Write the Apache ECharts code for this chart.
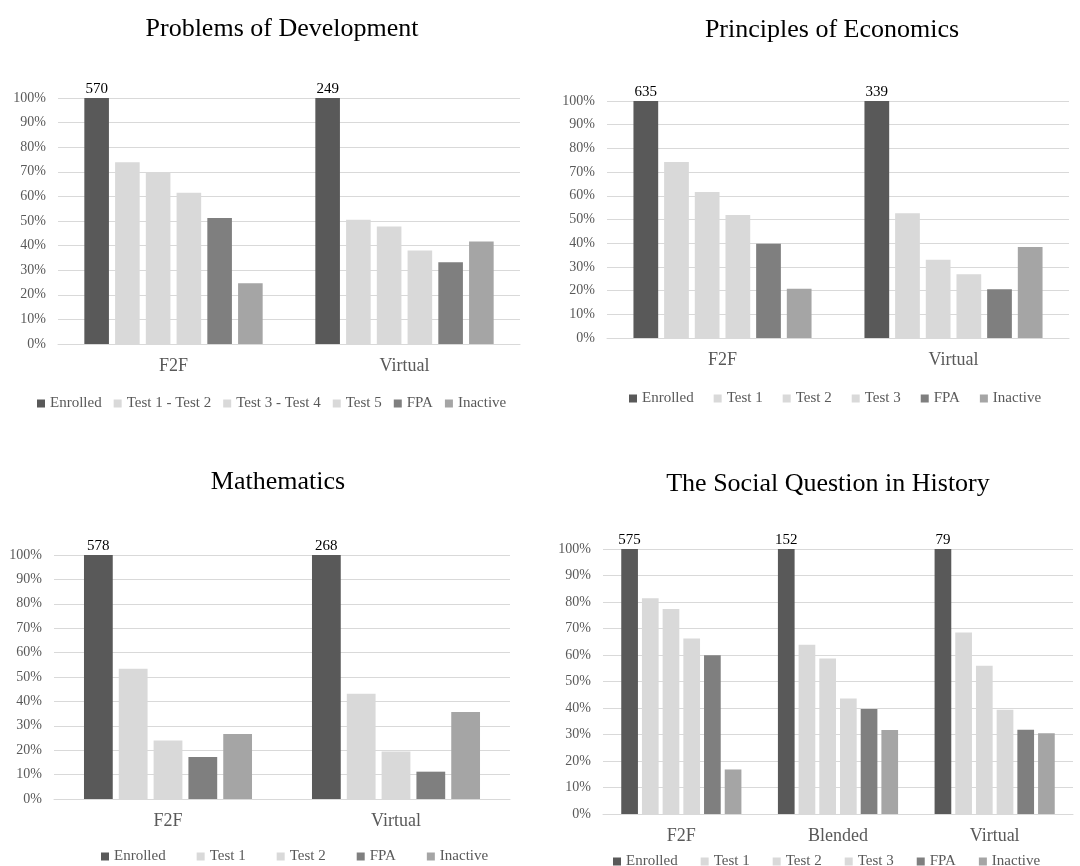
<!DOCTYPE html>
<html>
<head>
<meta charset="utf-8">
<title>Course progression by modality</title>
<script src="https://cdn.jsdelivr.net/npm/echarts@6/dist/echarts.min.js"></script>
<style>
  html, body { margin: 0; padding: 0; background: #ffffff; }
  #page { position: relative; width: 1080px; height: 866px; }
  .panel { position: absolute; width: 540px; height: 433px; }
</style>
</head>
<body>
<div id="page">
  <div id="dev" class="panel" style="left:0;top:0;"></div>
  <div id="eco" class="panel" style="left:540px;top:0;"></div>
  <div id="math" class="panel" style="left:0;top:433px;"></div>
  <div id="soc" class="panel" style="left:540px;top:433px;"></div>
</div>
<script>
// ---- Data: share of enrolled students (%) reaching each stage ----

// Problems of Development
const devTitle = 'Problems of Development';
const devCategories = ['F2F', 'Virtual'];
const devSeriesNames = ['Enrolled', 'Test 1 - Test 2', 'Test 3 - Test 4', 'Test 5', 'FPA', 'Inactive'];
const devEnrolledCount = [570, 249];
const devEnrolled = [100, 100];
const devTest1to2 = [73.9, 50.5];
const devTest3to4 = [69.7, 47.8];
const devTest5 = [61.5, 38.0];
const devFPA = [51.2, 33.2];
const devInactive = [24.7, 41.7];

// Principles of Economics
const ecoTitle = 'Principles of Economics';
const ecoCategories = ['F2F', 'Virtual'];
const ecoSeriesNames = ['Enrolled', 'Test 1', 'Test 2', 'Test 3', 'FPA', 'Inactive'];
const ecoEnrolledCount = [635, 339];
const ecoEnrolled = [100, 100];
const ecoTest1 = [74.3, 52.6];
const ecoTest2 = [61.6, 33.0];
const ecoTest3 = [51.9, 26.9];
const ecoFPA = [39.8, 20.6];
const ecoInactive = [20.8, 38.4];

// Mathematics
const mathTitle = 'Mathematics';
const mathCategories = ['F2F', 'Virtual'];
const mathSeriesNames = ['Enrolled', 'Test 1', 'Test 2', 'FPA', 'Inactive'];
const mathEnrolledCount = [578, 268];
const mathEnrolled = [100, 100];
const mathTest1 = [53.4, 43.1];
const mathTest2 = [24.0, 19.5];
const mathFPA = [17.2, 11.2];
const mathInactive = [26.6, 35.7];

// The Social Question in History
const socTitle = 'The Social Question in History';
const socCategories = ['F2F', 'Blended', 'Virtual'];
const socSeriesNames = ['Enrolled', 'Test 1', 'Test 2', 'Test 3', 'FPA', 'Inactive'];
const socEnrolledCount = [575, 152, 79];
const socEnrolled = [100, 100, 100];
const socTest1 = [81.4, 63.9, 68.5];
const socTest2 = [77.4, 58.7, 55.9];
const socTest3 = [66.2, 43.6, 39.3];
const socFPA = [59.9, 39.6, 31.8];
const socInactive = [16.8, 31.7, 30.5];

// Percent axis ticks
const yMin = 0;
const yMax = 100;
const yStep = 10;

// ---- Styling ----
const FONT = '"Liberation Serif", "Times New Roman", serif';
const INK = '#595959';
const GRID_LINE = '#d9d9d9';
const stageColor = {
  Enrolled: '#595959',
  FPA: '#7f7f7f',
  Inactive: '#a5a5a5'
};
const testColor = '#d9d9d9';

function colorFor(name) {
  return stageColor[name] || testColor;
}

function drawPanel(elId, title, categories, names, seriesData, enrolledCount, layout) {
  const chart = echarts.init(document.getElementById(elId), null, { renderer: 'canvas' });
  const series = names.map(function (name, i) {
    const s = {
      name: name,
      type: 'bar',
      data: seriesData[i],
      barGap: layout.barGap,
      barCategoryGap: layout.catGap,
      itemStyle: { color: colorFor(name) },
      emphasis: { disabled: true },
      animation: false
    };
    if (i === 0) {
      // Enrolled bars carry the head count of each group
      s.label = {
        show: true,
        position: 'top',
        distance: 1,
        color: '#000000',
        fontFamily: FONT,
        fontSize: 15,
        formatter: function (p) { return String(enrolledCount[p.dataIndex]); }
      };
    }
    return s;
  });

  chart.setOption({
    animation: false,
    backgroundColor: '#ffffff',
    graphic: [{
      type: 'text',
      x: layout.titleX,
      y: layout.titleY,
      style: {
        text: title,
        font: '26px ' + FONT,
        fill: '#000000',
        textAlign: 'center',
        textVerticalAlign: 'middle'
      }
    }],
    legend: {
      data: names,
      left: layout.legendLeft,
      top: layout.legendTop,
      icon: 'rect',
      itemWidth: 8,
      itemHeight: 8,
      itemGap: layout.legendGap,
      selectedMode: false,
      textStyle: { fontFamily: FONT, fontSize: 15, color: INK }
    },
    grid: {
      left: layout.left,
      right: layout.right,
      top: layout.top,
      bottom: layout.bottom,
      containLabel: false
    },
    xAxis: {
      type: 'category',
      data: categories,
      axisLine: { show: true, lineStyle: { color: GRID_LINE, width: 1 } },
      axisTick: { show: false },
      axisLabel: { fontFamily: FONT, fontSize: 18, color: INK, margin: 13 }
    },
    yAxis: {
      type: 'value',
      min: yMin,
      max: yMax,
      interval: yStep,
      axisLine: { show: false },
      axisTick: { show: false },
      splitLine: { lineStyle: { color: GRID_LINE, width: 1 } },
      axisLabel: {
        fontFamily: FONT,
        fontSize: 14,
        color: INK,
        margin: 12,
        formatter: '{value}%'
      }
    },
    series: series
  });
  return chart;
}

drawPanel('dev', devTitle, devCategories, devSeriesNames,
  [devEnrolled, devTest1to2, devTest3to4, devTest5, devFPA, devInactive], devEnrolledCount,
  { left: 58, right: 20, top: 98, bottom: 89, catGap: '22.8%', barGap: '25%',
    titleX: 282, titleY: 29, legendLeft: 32, legendTop: 391, legendGap: 12 });

drawPanel('eco', ecoTitle, ecoCategories, ecoSeriesNames,
  [ecoEnrolled, ecoTest1, ecoTest2, ecoTest3, ecoFPA, ecoInactive], ecoEnrolledCount,
  { left: 67, right: 11, top: 101, bottom: 95, catGap: '22.9%', barGap: '24%',
    titleX: 292, titleY: 30, legendLeft: 84, legendTop: 386, legendGap: 20 });

drawPanel('math', mathTitle, mathCategories, mathSeriesNames,
  [mathEnrolled, mathTest1, mathTest2, mathFPA, mathInactive], mathEnrolledCount,
  { left: 54, right: 30, top: 122, bottom: 67, catGap: '26.3%', barGap: '21%',
    titleX: 278, titleY: 49, legendLeft: 96, legendTop: 411, legendGap: 31 });

drawPanel('soc', socTitle, socCategories, socSeriesNames,
  [socEnrolled, socTest1, socTest2, socTest3, socFPA, socInactive], socEnrolledCount,
  { left: 63, right: 7, top: 116, bottom: 52, catGap: '23.3%', barGap: '24%',
    titleX: 288, titleY: 51, legendLeft: 68, legendTop: 416, legendGap: 23 });
</script>
</body>
</html>
